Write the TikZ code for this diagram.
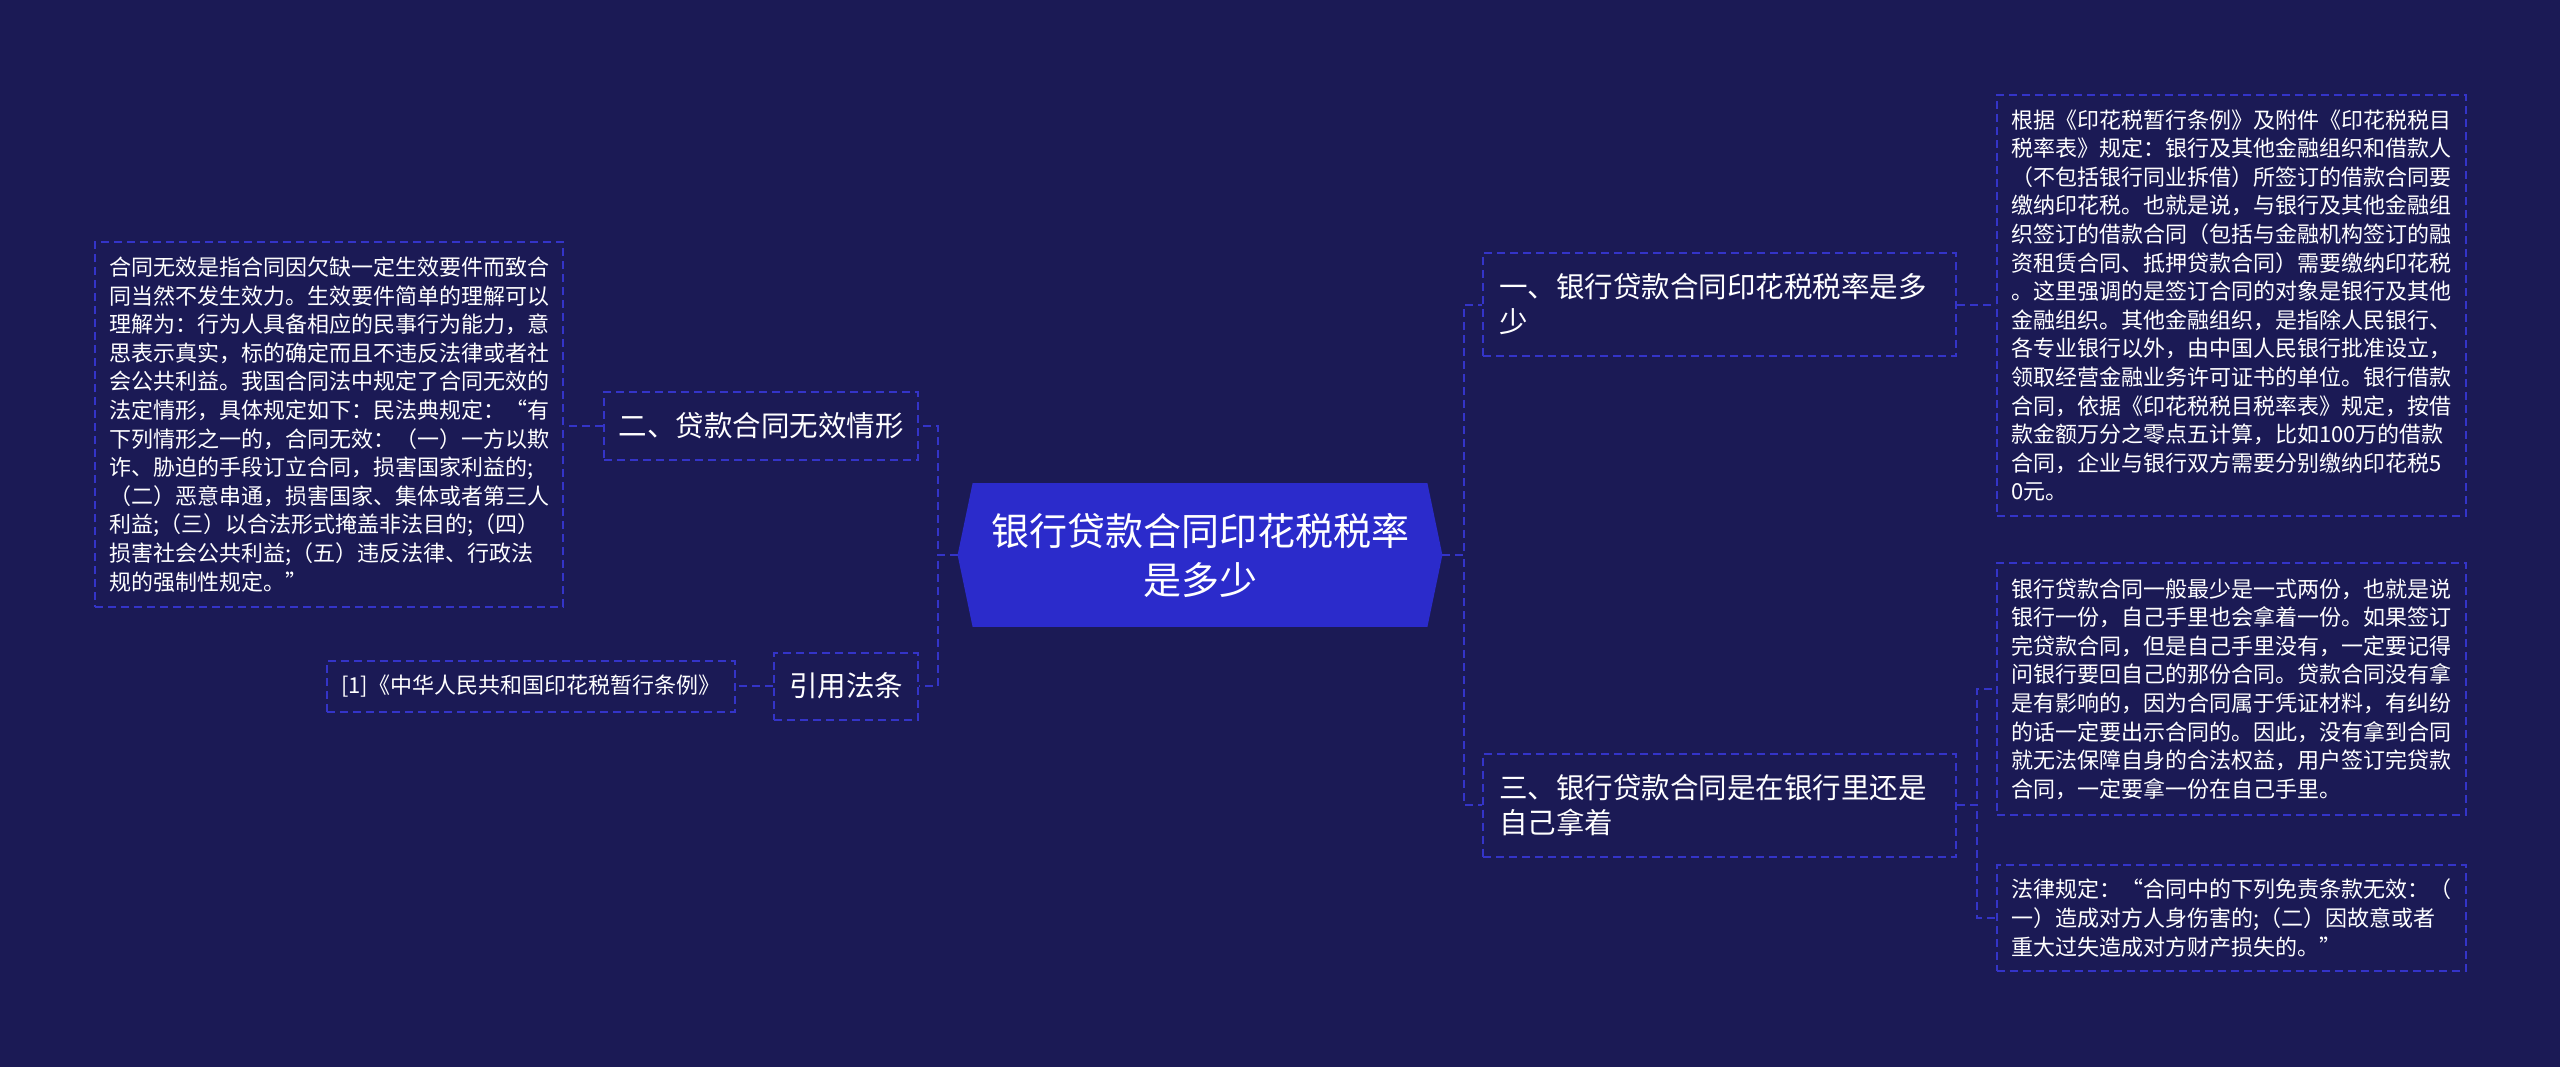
\documentclass[tikz,border=0pt]{standalone}
\usepackage{fontspec}
\usepackage{xcolor}
\usepackage{tikz}
\usetikzlibrary{positioning,backgrounds,calc}
\newfontfamily\cjk{Noto Sans CJK SC}
\definecolor{bgcol}{HTML}{1B1A55}
\definecolor{rootcol}{HTML}{2B2BCB}
\definecolor{linecol}{HTML}{3434C8}

\begin{document}
\begin{tikzpicture}[x=0.5pt, y=-0.5pt, font=\cjk, text=white,
  link/.style={draw=linecol, line width=1pt, dash pattern=on 4pt off 2.5pt},
  leaf/.style={rectangle, link, align=left, inner xsep=7pt, inner ysep=3pt,
               text width=220.5pt, font=\cjk\fontsize{11}{14.3}\selectfont},
  topic/.style={rectangle, link, align=left, inner xsep=8pt, inner ysep=3pt,
                font=\cjk\fontsize{14.25}{17.5}\selectfont},
  rootnode/.style={rectangle, align=center, minimum width=242pt,
                   minimum height=71.5pt, font=\cjk\fontsize{19}{24.5}\selectfont}]
  \node[rootnode] (root) at (1200,555) {银行贷款合同印花税税率\\是多少};
  % right branch
  \node[topic, text width=220.5pt, minimum height=51.5pt] (n1) at (1719.5,304.5)
    {一、银行贷款合同印花税税率是多\\少};
  \node[topic, text width=220.5pt, minimum height=51.5pt] (n3) at (1719.5,805)
    {三、银行贷款合同是在银行里还是\\自己拿着};
  \node[leaf, minimum height=210.5pt] (boxA) at (2231.5,305.5)
    {根据《印花税暂行条例》及附件《印花税税目\\
     税率表》规定：银行及其他金融组织和借款人\\
     （不包括银行同业拆借）所签订的借款合同要\\
     缴纳印花税。也就是说，与银行及其他金融组\\
     织签订的借款合同（包括与金融机构签订的融\\
     资租赁合同、抵押贷款合同）需要缴纳印花税\\
     。这里强调的是签订合同的对象是银行及其他\\
     金融组织。其他金融组织，是指除人民银行、\\
     各专业银行以外，由中国人民银行批准设立，\\
     领取经营金融业务许可证书的单位。银行借款\\
     合同，依据《印花税税目税率表》规定，按借\\
     款金额万分之零点五计算，比如100万的借款\\
     合同，企业与银行双方需要分别缴纳印花税5\\
     0元。};
  \node[leaf, minimum height=126pt] (boxB) at (2231.5,689)
    {银行贷款合同一般最少是一式两份，也就是说\\
     银行一份，自己手里也会拿着一份。如果签订\\
     完贷款合同，但是自己手里没有，一定要记得\\
     问银行要回自己的那份合同。贷款合同没有拿\\
     是有影响的，因为合同属于凭证材料，有纠纷\\
     的话一定要出示合同的。因此，没有拿到合同\\
     就无法保障自身的合法权益，用户签订完贷款\\
     合同，一定要拿一份在自己手里。};
  \node[leaf, minimum height=53pt] (boxC) at (2231.5,918)
    {法律规定：“合同中的下列免责条款无效：（\\
     一）造成对方人身伤害的;（二）因故意或者\\
     重大过失造成对方财产损失的。”};
  % left branch
  \node[topic, inner xsep=7pt, minimum width=157pt, minimum height=34pt] (n2) at (761,426)
    {二、贷款合同无效情形};
  \node[topic, inner xsep=7pt, minimum width=72pt, minimum height=33.5pt] (nref) at (846,686)
    {引用法条};
  \node[leaf, text width=220pt, minimum height=182.5pt] (boxL) at (329,424.5)
    {合同无效是指合同因欠缺一定生效要件而致合\\
     同当然不发生效力。生效要件简单的理解可以\\
     理解为：行为人具备相应的民事行为能力，意\\
     思表示真实，标的确定而且不违反法律或者社\\
     会公共利益。我国合同法中规定了合同无效的\\
     法定情形，具体规定如下：民法典规定：“有\\
     下列情形之一的，合同无效：（一）一方以欺\\
     诈、胁迫的手段订立合同，损害国家利益的;\\
     （二）恶意串通，损害国家、集体或者第三人\\
     利益;（三）以合法形式掩盖非法目的;（四）\\
     损害社会公共利益;（五）违反法律、行政法\\
     规的强制性规定。”};
  \node[leaf, text width=190pt, minimum height=25.5pt] (boxRef) at (531,686.5)
    {[1]《中华人民共和国印花税暂行条例》};
  % connectors
  \draw[link] (root.east) -- ++(22,0) |- (n1.west);
  \draw[link] (root.east) -- ++(22,0) |- (n3.west);
  \draw[link] (root.west) -- ++(-20,0) |- (n2.east);
  \draw[link] (root.west) -- ++(-20,0) |- (nref.east);
  \draw[link] (n2.west) -- (n2.west -| boxL.east);
  \draw[link] (nref.west) -- (nref.west -| boxRef.east);
  \draw[link] (n1.east) -- (n1.east -| boxA.west);
  \draw[link] (n3.east) -- ++(20,0) |- (boxB.west);
  \draw[link] (n3.east) -- ++(20,0) |- (boxC.west);
  \begin{scope}[on background layer]
    \fill[bgcol] (0,0) rectangle (2560,1067);
    \fill[rootcol] (root.west) -- ([xshift=7.5pt]root.north west)
      -- ([xshift=-7.5pt]root.north east) -- (root.east)
      -- ([xshift=-7.5pt]root.south east) -- ([xshift=7.5pt]root.south west) -- cycle;
  \end{scope}
\end{tikzpicture}
\end{document}
